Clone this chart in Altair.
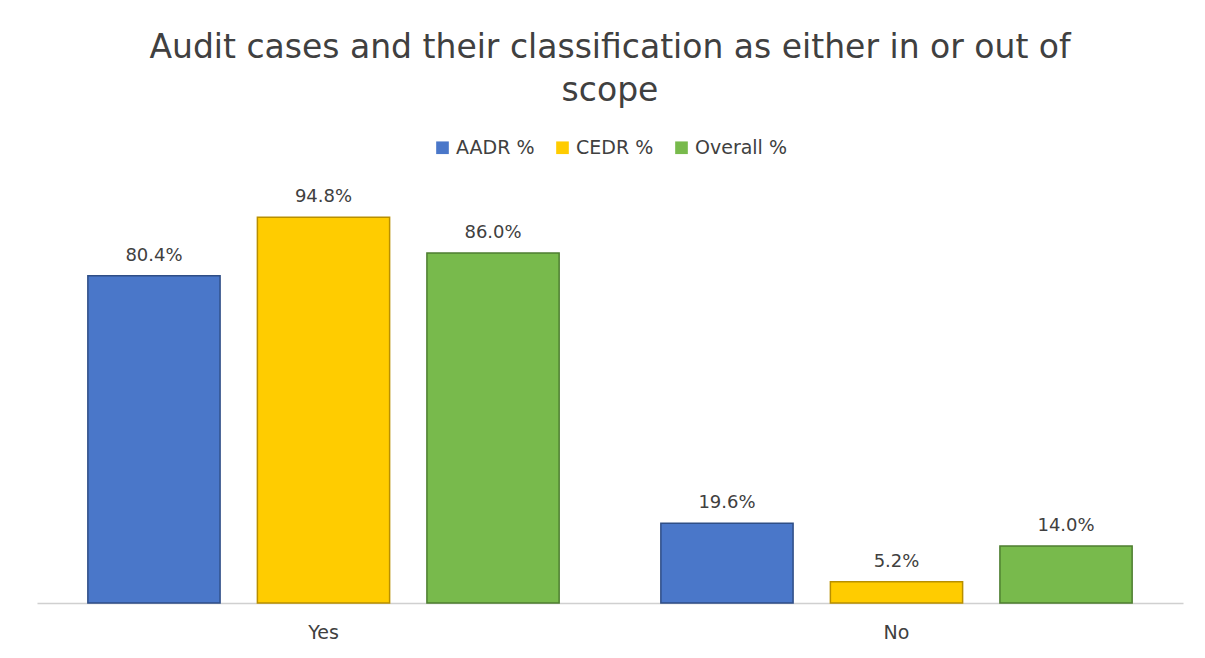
import altair as alt
import pandas as pd

categories = ["Yes", "No"]
series = ["AADR %", "CEDR %", "Overall %"]
aadr = [80.4, 19.6]
cedr = [94.8, 5.2]
overall = [86.0, 14.0]
colors = ["#4A77C9", "#FFCC00", "#78BA4C"]
strokes = ["#2F4E86", "#B88F00", "#4E7E30"]

rows = []
for i, c in enumerate(categories):
    for s, vals in zip(series, [aadr, cedr, overall]):
        rows.append({"cat": c, "series": s, "value": vals[i],
                     "label": f"{vals[i]:.1f}%"})
df = pd.DataFrame(rows)

font = "DejaVu Sans"
textc = "#404040"

x = alt.X("cat:N", sort=categories, title=None,
          scale=alt.Scale(paddingInner=0, paddingOuter=0),
          axis=alt.Axis(labelAngle=0, labelFontSize=19, labelColor=textc,
                        labelFont=font, ticks=False, domainColor="#D0D0D0",
                        domainWidth=1.5, labelPadding=20))
xo = alt.XOffset("series:N", sort=series,
                 scale=alt.Scale(paddingInner=0.22, paddingOuter=0.3))
y = alt.Y("value:Q", scale=alt.Scale(domain=[0, 100]), axis=None)

bars = alt.Chart(df).mark_bar(strokeWidth=1.5).encode(
    x=x, xOffset=xo, y=y,
    color=alt.Color("series:N", sort=series,
                    scale=alt.Scale(domain=series, range=colors),
                    legend=alt.Legend(title=None, orient="none",
                                      direction="horizontal",
                                      legendX=396, legendY=-58,
                                      labelFontSize=19, labelColor=textc,
                                      labelFont=font, symbolType="square",
                                      symbolSize=160, columnPadding=18,
                                      symbolStrokeWidth=0)),
    stroke=alt.Stroke("series:N", sort=series,
                      scale=alt.Scale(domain=series, range=strokes),
                      legend=None),
)

labels = alt.Chart(df).mark_text(baseline="bottom", dy=-11, fontSize=18,
                                 color=textc, font=font).encode(
    x=x, xOffset=xo, y=y, text="label:N")

chart = (bars + labels).properties(
    width=1146, height=407,
    title=alt.TitleParams(
        text=["Audit cases and their classification as either in or out of",
              "scope"],
        fontSize=33, font=font, color=textc, fontWeight="normal",
        anchor="middle", lineHeight=43, offset=30),
    padding={"left": 37, "top": 196, "right": 22, "bottom": 55},
    autosize=alt.AutoSizeParams(type="none"),
).configure(background="white").configure_view(stroke=None)

chart.save("out.html", embed_options={"renderer": "svg", "actions": False})
